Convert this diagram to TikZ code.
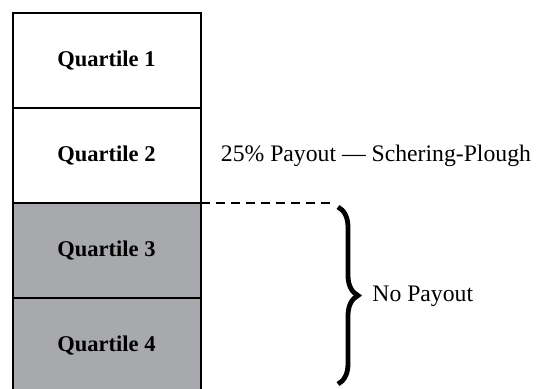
\documentclass[tikz,border=0pt]{standalone}
\usepackage{fontspec}
\setmainfont{Liberation Serif}
\usepackage{tikz}
\usetikzlibrary{positioning, decorations.pathreplacing}

\definecolor{lowshade}{RGB}{168,169,172}

\begin{document}
\begin{tikzpicture}[x=0.5pt, y=-0.5pt, node distance=0pt]
    \tikzstyle{quartile} = [rectangle, draw=black, line width=1pt, outer sep=0pt, minimum width=94pt, minimum height=47.5pt, align=center, font=\fontsize{11.25}{13}\selectfont\bfseries]
    \tikzstyle{lowquartile} = [quartile, fill=lowshade]
    \tikzstyle{note} = [inner sep=0pt, font=\fontsize{11.85}{14}\selectfont]
    \tikzstyle{cutoff} = [line width=0.7pt, dash pattern=on 4.5pt off 3pt]
    \tikzstyle{curly} = [decorate, decoration={brace, amplitude=10pt}, line width=2.4pt]

    \useasboundingbox (0,0) rectangle (537,388);

    \node (q1) [quartile] at (106.5,60.5) {Quartile 1};
    \node (q2) [quartile, below=of q1] {Quartile 2};
    \node (q3) [lowquartile, below=of q2] {Quartile 3};
    \node (q4) [lowquartile, below=of q3] {Quartile 4};

    \node (payout) [note, right=10pt of q2] {25\% Payout --- Schering-Plough};

    \coordinate (dashend) at (332,203);
    \draw [cutoff] (q2.south east) -- (dashend);

    \coordinate (bracetop) at (338,207);
    \coordinate (bracebot) at (338,384);
    \coordinate (bracetip) at (358,296);
    \draw [curly] (bracetop) -- (bracebot);

    \node (nopay) [note, right=7pt of bracetip] {No Payout};
\end{tikzpicture}
\end{document}
